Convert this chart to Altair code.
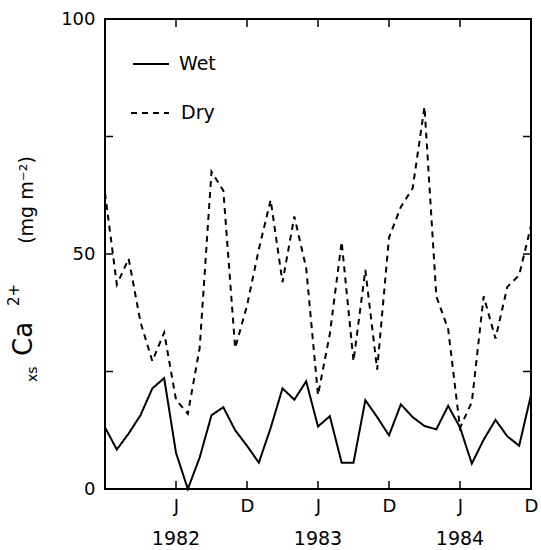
import altair as alt
import pandas as pd

# ---- data (monthly, Dec 1981 .. Dec 1984) ----
month_names = ["Jan", "Feb", "Mar", "Apr", "May", "Jun", "Jul", "Aug", "Sep", "Oct", "Nov", "Dec"]
months = ["Dec 1981"] + [f"{m} {y}" for y in (1982, 1983, 1984) for m in month_names]
month_index = list(range(len(months)))

wet = [13.1, 8.4, 11.8, 15.7, 21.4, 23.6, 7.7, 0.0, 6.7, 15.7, 17.4, 12.5, 9.2,
       5.6, 13.0, 21.4, 19.0, 22.9, 13.3, 15.5, 5.6, 5.6, 18.9, 15.3, 11.4,
       18.0, 15.3, 13.4, 12.7, 17.7, 13.1, 5.4, 10.5, 14.7, 11.2, 9.2, 20.0]
dry = [63.0, 43.5, 49.0, 35.5, 27.2, 33.3, 19.0, 16.0, 30.0, 67.5, 63.5, 30.0, 39.0,
       51.0, 61.5, 44.0, 58.0, 47.0, 20.0, 33.0, 52.6, 27.2, 46.6, 25.4, 53.5,
       60.0, 64.0, 81.3, 41.0, 34.0, 13.0, 18.5, 41.0, 32.0, 43.0, 45.5, 56.0]

series_names = ["Wet", "Dry"]
x_tick_values = [6, 12, 18, 24, 30, 36]        # J, D, J, D, J, D
inner_x_ticks = [6, 12, 18, 24, 30]
year_labels = ["1982", "1983", "1984"]
year_positions = [6, 18, 30]
y_label_values = [0, 50, 100]
y_minor_ticks = [25, 50, 75]

df = pd.DataFrame({
    "m": month_index * 2,
    "month": months * 2,
    "v": wet + dry,
    "series": ["Wet"] * len(wet) + ["Dry"] * len(dry),
})

W, H = 426, 470
FONT = "DejaVu Sans"

x_scale = alt.Scale(domain=[0, 36], nice=False, zero=False)
y_scale = alt.Scale(domain=[0, 100], nice=False)
dash_scale = alt.Scale(domain=series_names, range=[[1, 0], [6, 5]])

lines = alt.Chart(df).mark_line(color="black", strokeWidth=2, clip=False).encode(
    x=alt.X("m:Q", scale=x_scale,
            axis=alt.Axis(values=x_tick_values,
                          labelExpr="datum.value % 12 == 6 ? 'J' : 'D'",
                          title=None, grid=False, domain=False, ticks=False, tickSize=0,
                          labelPadding=8, labelFontSize=18, labelFont=FONT,
                          labelColor="black", labelFlush=False, labelOverlap=False)),
    y=alt.Y("v:Q", scale=y_scale,
            axis=alt.Axis(values=y_label_values, title=None, grid=False, domain=False,
                          ticks=False, tickSize=0, labelPadding=10, labelFontSize=18,
                          labelFont=FONT, labelColor="black", labelFlush=False)),
    strokeDash=alt.StrokeDash("series:N", scale=dash_scale, legend=None),
    detail="series:N",
    order="m:Q",
)

ydf = pd.DataFrame({"v": y_minor_ticks})
xdf = pd.DataFrame({"m": inner_x_ticks})

left_ticks = alt.Chart(ydf).mark_rule(color="black", strokeWidth=1.5).encode(
    y=alt.Y("v:Q", scale=y_scale), x=alt.value(0), x2=alt.value(8))
right_ticks = alt.Chart(ydf).mark_rule(color="black", strokeWidth=1.5).encode(
    y=alt.Y("v:Q", scale=y_scale), x=alt.value(W - 8), x2=alt.value(W))
bottom_ticks = alt.Chart(xdf).mark_rule(color="black", strokeWidth=1.5).encode(
    x=alt.X("m:Q", scale=x_scale), y=alt.value(H - 8), y2=alt.value(H))
top_ticks = alt.Chart(xdf).mark_rule(color="black", strokeWidth=1.5).encode(
    x=alt.X("m:Q", scale=x_scale), y=alt.value(0), y2=alt.value(8))

years = alt.Chart(pd.DataFrame({"m": year_positions, "year": year_labels})).mark_text(
    fontSize=19, font=FONT, color="black", baseline="middle", align="center"
).encode(x=alt.X("m:Q", scale=x_scale), y=alt.value(H + 50), text="year:N")

# ---- manual legend ----
wet_df = pd.DataFrame({"series": ["Wet"]})
dry_df = pd.DataFrame({"series": ["Dry"]})
leg_wet_line = alt.Chart(wet_df).mark_rule(color="black", strokeWidth=2).encode(
    x=alt.value(28), x2=alt.value(64), y=alt.value(45))
leg_dry_line = alt.Chart(dry_df).mark_rule(color="black", strokeWidth=2, strokeDash=[6, 5]).encode(
    x=alt.value(26), x2=alt.value(64), y=alt.value(94))
leg_wet_text = alt.Chart(wet_df).mark_text(
    fontSize=19, font=FONT, color="black", align="left", baseline="middle"
).encode(x=alt.value(74), y=alt.value(45), text="series:N")
leg_dry_text = alt.Chart(dry_df).mark_text(
    fontSize=19, font=FONT, color="black", align="left", baseline="middle"
).encode(x=alt.value(76), y=alt.value(94), text="series:N")

# ---- y-axis title pieces: xs Ca2+ (mg m-2) ----
def title_piece(txt, size, x, y, align="left"):
    return alt.Chart(pd.DataFrame({"t": [txt]})).mark_text(
        fontSize=size, font=FONT, color="black", angle=270, align=align,
        baseline="alphabetic"
    ).encode(x=alt.value(x), y=alt.value(y), text="t:N")

t_xs = title_piece("xs", 14, -68, 363)
t_ca = title_piece("Ca", 26, -73, 337)
t_sup = title_piece("2+", 15, -86, 287)
t_unit = title_piece("(mg m\u207b\u00b2)", 19, -72, 181, align="center")

chart = alt.layer(
    lines, left_ticks, right_ticks, bottom_ticks, top_ticks, years,
    leg_wet_line, leg_dry_line, leg_wet_text, leg_dry_text,
    t_xs, t_ca, t_sup, t_unit,
).properties(
    width=W, height=H,
    autosize=alt.AutoSizeParams(type="none"),
    padding={"left": 105, "top": 19, "right": 10, "bottom": 61},
    background="white",
).configure_view(
    stroke="black", strokeWidth=2
)

chart.save("out.html", embed_options={"renderer": "svg", "actions": False})
